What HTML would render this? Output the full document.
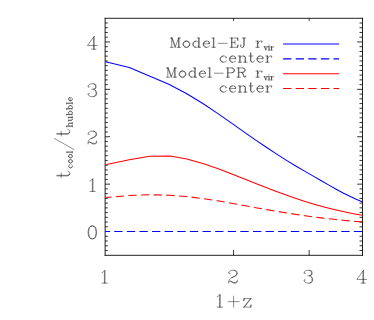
<!DOCTYPE html>
<html><head><meta charset="utf-8"><title>t_cool / t_hubble vs 1+z</title>
<style>html,body{margin:0;padding:0;background:#fff;font-family:"Liberation Sans",sans-serif}svg{display:block}</style>
</head><body><svg width="374" height="320" viewBox="0 0 374 320">
<rect width="374" height="320" fill="#fff"/>
<g fill="none" stroke-linecap="butt">
<path d="M105.13 17.88V255.75M362.5 17.88V255.75M104.69 18.3H362.94M104.69 255.32H362.94" stroke="#000" stroke-width="0.87"/>
<path d="M105.13 250.51H107.8M362.5 250.51h-3.0M105.13 245.77H107.8M362.5 245.77h-3.0M105.13 241.03H107.8M362.5 241.03h-3.0M105.13 236.29H107.8M362.5 236.29h-3.0M105.13 231.55H110.1M362.5 231.55h-5.3M105.13 226.81H107.8M362.5 226.81h-3.0M105.13 222.07H107.8M362.5 222.07h-3.0M105.13 217.33H107.8M362.5 217.33h-3.0M105.13 212.59H107.8M362.5 212.59h-3.0M105.13 207.85H107.8M362.5 207.85h-3.0M105.13 203.11H107.8M362.5 203.11h-3.0M105.13 198.37H107.8M362.5 198.37h-3.0M105.13 193.63H107.8M362.5 193.63h-3.0M105.13 188.89H107.8M362.5 188.89h-3.0M105.13 184.15H110.1M362.5 184.15h-5.3M105.13 179.41H107.8M362.5 179.41h-3.0M105.13 174.67H107.8M362.5 174.67h-3.0M105.13 169.93H107.8M362.5 169.93h-3.0M105.13 165.19H107.8M362.5 165.19h-3.0M105.13 160.45H107.8M362.5 160.45h-3.0M105.13 155.71H107.8M362.5 155.71h-3.0M105.13 150.97H107.8M362.5 150.97h-3.0M105.13 146.23H107.8M362.5 146.23h-3.0M105.13 141.49H107.8M362.5 141.49h-3.0M105.13 136.75H110.1M362.5 136.75h-5.3M105.13 132.01H107.8M362.5 132.01h-3.0M105.13 127.27H107.8M362.5 127.27h-3.0M105.13 122.53H107.8M362.5 122.53h-3.0M105.13 117.79H107.8M362.5 117.79h-3.0M105.13 113.05H107.8M362.5 113.05h-3.0M105.13 108.31H107.8M362.5 108.31h-3.0M105.13 103.57H107.8M362.5 103.57h-3.0M105.13 98.83H107.8M362.5 98.83h-3.0M105.13 94.09H107.8M362.5 94.09h-3.0M105.13 89.35H110.1M362.5 89.35h-5.3M105.13 84.61H107.8M362.5 84.61h-3.0M105.13 79.87H107.8M362.5 79.87h-3.0M105.13 75.13H107.8M362.5 75.13h-3.0M105.13 70.39H107.8M362.5 70.39h-3.0M105.13 65.65H107.8M362.5 65.65h-3.0M105.13 60.91H107.8M362.5 60.91h-3.0M105.13 56.17H107.8M362.5 56.17h-3.0M105.13 51.43H107.8M362.5 51.43h-3.0M105.13 46.69H107.8M362.5 46.69h-3.0M105.13 41.95H110.1M362.5 41.95h-5.3M105.13 37.21H107.8M362.5 37.21h-3.0M105.13 32.47H107.8M362.5 32.47h-3.0M105.13 27.73H107.8M362.5 27.73h-3.0M105.13 22.99H107.8M362.5 22.99h-3.0M233.55 255.32V250.0M233.55 18.3V20.8M309.15 255.32V250.0M309.15 18.3V20.8" stroke="#000" stroke-width="0.8"/>
<path d="M105.5 61.8L129.3 67.6L168.8 84.3L186.8 93.69L202.8 103.48L217.6 113.38L231.2 122.88L243.9 131.84L255.7 140.06L266.7 147.55L277.1 154.39L286.9 160.58L296.2 166.21L305 171.38L313.3 176.17L321.3 180.75L328.9 185.09L336.2 189.2L343.1 192.94L349.8 196.34L356.2 199.31L362.5 201.89" stroke="#00f" stroke-width="1.05" stroke-linejoin="round"/>
<path d="M105.5 164.85L129.3 159.8L149.65 156.3L170 156.1L186.8 158.9L202.8 163.41L217.6 168.59L231.2 173.82L243.9 178.85L255.7 183.54L266.7 187.83L277.1 191.77L286.9 195.32L296.2 198.53L305 201.39L313.3 203.92L321.3 206.19L328.9 208.18L336.2 209.96L343.1 211.51L349.8 212.92L356.2 214.17L362.5 215.31" stroke="#f00" stroke-width="1.05" stroke-linejoin="round"/>
<path d="M105.5 197.6L129.3 195.52L149.8 194.77L169.5 195.21L186.8 196.56L202.8 198.53L217.6 200.83L231.2 203.21L243.9 205.53L255.7 207.67L266.7 209.61L277.1 211.37L286.9 212.96L296.2 214.4L305 215.69L313.3 216.83L321.3 217.86L328.9 218.78L336.2 219.58L343.1 220.29L349.8 220.9L356.2 221.43L362.5 221.89" stroke="#f00" stroke-width="1.05" stroke-dasharray="8.3 4.34" stroke-dashoffset="2.3"/>
<path d="M105.5 231.5H362.5" stroke="#00f" stroke-width="1.05" stroke-dasharray="8.3 4.316" stroke-dashoffset="3.9"/>
<path d="M283.1 44H339.1" stroke="#00f" stroke-width="1.05"/>
<path d="M283.1 58.85H339.1" stroke="#00f" stroke-width="1.05" stroke-dasharray="8.3 4.3"/>
<path d="M283.1 73.7H339.1" stroke="#f00" stroke-width="1.05"/>
<path d="M283.1 88.5H339.1" stroke="#f00" stroke-width="1.05" stroke-dasharray="8.3 4.3"/>
<path d="M91.74 225.99L89.91 226.6L88.69 228.43L88.08 231.48L88.08 233.31L88.69 236.36L89.91 238.19L91.74 238.8L92.96 238.8L94.79 238.19L96.01 236.36L96.62 233.31L96.62 231.48L96.01 228.43L94.79 226.6L92.96 225.99L91.74 225.99 M91.74 225.99L90.52 226.6L89.91 227.21L89.3 228.43L88.69 231.48L88.69 233.31L89.3 236.36L89.91 237.58L90.52 238.19L91.74 238.8 M92.96 238.8L94.18 238.19L94.79 237.58L95.4 236.36L96.01 233.31L96.01 231.48L95.4 228.43L94.79 227.21L94.18 226.6L92.96 225.99 M89.91 181.03L91.13 180.42L92.96 178.59L92.96 191.4 M92.35 179.2L92.35 191.4 M89.91 191.4L95.4 191.4 M88.69 133.63L89.3 134.24L88.69 134.85L88.08 134.24L88.08 133.63L88.69 132.41L89.3 131.8L91.13 131.19L93.57 131.19L95.4 131.8L96.01 132.41L96.62 133.63L96.62 134.85L96.01 136.07L94.18 137.29L91.13 138.51L89.91 139.12L88.69 140.34L88.08 142.17L88.08 144 M93.57 131.19L94.79 131.8L95.4 132.41L96.01 133.63L96.01 134.85L95.4 136.07L93.57 137.29L91.13 138.51 M88.08 142.78L88.69 142.17L89.91 142.17L92.96 143.39L94.79 143.39L96.01 142.78L96.62 142.17 M89.91 142.17L92.96 144L95.4 144L96.01 143.39L96.62 142.17L96.62 140.95 M88.69 86.23L89.3 86.84L88.69 87.45L88.08 86.84L88.08 86.23L88.69 85.01L89.3 84.4L91.13 83.79L93.57 83.79L95.4 84.4L96.01 85.62L96.01 87.45L95.4 88.67L93.57 89.28L91.74 89.28 M93.57 83.79L94.79 84.4L95.4 85.62L95.4 87.45L94.79 88.67L93.57 89.28 M93.57 89.28L94.79 89.89L96.01 91.11L96.62 92.33L96.62 94.16L96.01 95.38L95.4 95.99L93.57 96.6L91.13 96.6L89.3 95.99L88.69 95.38L88.08 94.16L88.08 93.55L88.69 92.94L89.3 93.55L88.69 94.16 M95.4 90.5L96.01 92.33L96.01 94.16L95.4 95.38L94.79 95.99L93.57 96.6 M93.57 37.61L93.57 49.2 M94.18 36.39L94.18 49.2 M94.18 36.39L87.47 45.54L97.23 45.54 M91.74 49.2L96.01 49.2 M101.96 272.73L103.18 272.12L105.01 270.29L105.01 283.1 M104.4 270.9L104.4 283.1 M101.96 283.1L107.45 283.1 M229.39 272.73L230 273.34L229.39 273.95L228.78 273.34L228.78 272.73L229.39 271.51L230 270.9L231.83 270.29L234.27 270.29L236.1 270.9L236.71 271.51L237.32 272.73L237.32 273.95L236.71 275.17L234.88 276.39L231.83 277.61L230.61 278.22L229.39 279.44L228.78 281.27L228.78 283.1 M234.27 270.29L235.49 270.9L236.1 271.51L236.71 272.73L236.71 273.95L236.1 275.17L234.27 276.39L231.83 277.61 M228.78 281.88L229.39 281.27L230.61 281.27L233.66 282.49L235.49 282.49L236.71 281.88L237.32 281.27 M230.61 281.27L233.66 283.1L236.1 283.1L236.71 282.49L237.32 281.27L237.32 280.05 M304.74 272.73L305.35 273.34L304.74 273.95L304.13 273.34L304.13 272.73L304.74 271.51L305.35 270.9L307.18 270.29L309.62 270.29L311.45 270.9L312.06 272.12L312.06 273.95L311.45 275.17L309.62 275.78L307.79 275.78 M309.62 270.29L310.84 270.9L311.45 272.12L311.45 273.95L310.84 275.17L309.62 275.78 M309.62 275.78L310.84 276.39L312.06 277.61L312.67 278.83L312.67 280.66L312.06 281.88L311.45 282.49L309.62 283.1L307.18 283.1L305.35 282.49L304.74 281.88L304.13 280.66L304.13 280.05L304.74 279.44L305.35 280.05L304.74 280.66 M311.45 277L312.06 278.83L312.06 280.66L311.45 281.88L310.84 282.49L309.62 283.1 M362.92 271.51L362.92 283.1 M363.53 270.29L363.53 283.1 M363.53 270.29L356.82 279.44L366.58 279.44 M361.09 283.1L365.36 283.1 M217.16 296.78L218.38 296.17L220.21 294.34L220.21 307.15 M219.6 294.95L219.6 307.15 M217.16 307.15L222.65 307.15 M233.6 296.12L233.6 307.1 M228.11 301.61L239.09 301.61 M250.45 298.56L243.74 307.1 M251.06 298.56L244.35 307.1 M244.35 298.56L243.74 301L243.74 298.56L251.06 298.56 M243.74 307.1L251.06 307.1L251.06 304.66L250.45 307.1 M56.89 175.91L67.26 175.91L69.09 175.3L69.7 174.08L69.7 172.86L69.09 171.64L67.87 171.03 M56.89 175.3L67.26 175.3L69.09 174.69L69.7 174.08 M61.16 177.74L61.16 172.86 M54.45 138.5L73.97 149.48 M56.89 134.23L67.26 134.23L69.09 133.62L69.7 132.4L69.7 131.18L69.09 129.96L67.87 129.35 M56.89 133.62L67.26 133.62L69.09 133.01L69.7 132.4 M61.16 136.06L61.16 131.18 M171.72 38.04L171.72 47.3 M172.21 38.04L175.15 45.98 M171.72 38.04L175.15 47.3 M178.58 38.04L175.15 47.3 M178.58 38.04L178.58 47.3 M179.07 38.04L179.07 47.3 M170.25 38.04L172.21 38.04 M178.58 38.04L180.54 38.04 M170.25 47.3L173.19 47.3 M177.11 47.3L180.54 47.3 M185.93 41.13L184.46 41.57L183.48 42.45L182.99 43.77L182.99 44.65L183.48 45.98L184.46 46.86L185.93 47.3L186.91 47.3L188.38 46.86L189.36 45.98L189.85 44.65L189.85 43.77L189.36 42.45L188.38 41.57L186.91 41.13L185.93 41.13 M185.93 41.13L184.95 41.57L183.97 42.45L183.48 43.77L183.48 44.65L183.97 45.98L184.95 46.86L185.93 47.3 M186.91 47.3L187.89 46.86L188.87 45.98L189.36 44.65L189.36 43.77L188.87 42.45L187.89 41.57L186.91 41.13 M198.67 38.04L198.67 47.3 M199.16 38.04L199.16 47.3 M198.67 42.45L197.69 41.57L196.71 41.13L195.73 41.13L194.26 41.57L193.28 42.45L192.79 43.77L192.79 44.65L193.28 45.98L194.26 46.86L195.73 47.3L196.71 47.3L197.69 46.86L198.67 45.98 M195.73 41.13L194.75 41.57L193.77 42.45L193.28 43.77L193.28 44.65L193.77 45.98L194.75 46.86L195.73 47.3 M197.2 38.04L199.16 38.04 M198.67 47.3L200.63 47.3 M203.57 43.77L209.45 43.77L209.45 42.89L208.96 42.01L208.47 41.57L207.49 41.13L206.02 41.13L204.55 41.57L203.57 42.45L203.08 43.77L203.08 44.65L203.57 45.98L204.55 46.86L206.02 47.3L207 47.3L208.47 46.86L209.45 45.98 M208.96 43.77L208.96 42.45L208.47 41.57 M206.02 41.13L205.04 41.57L204.06 42.45L203.57 43.77L203.57 44.65L204.06 45.98L205.04 46.86L206.02 47.3 M213.37 38.04L213.37 47.3 M213.86 38.04L213.86 47.3 M211.9 38.04L213.86 38.04 M211.9 47.3L215.33 47.3 M218.27 43.33L227.09 43.33 M231.5 38.04L231.5 47.3 M231.99 38.04L231.99 47.3 M234.93 40.68L234.93 44.21 M230.03 38.04L237.87 38.04L237.87 40.68L237.38 38.04 M231.99 42.45L234.93 42.45 M230.03 47.3L237.87 47.3L237.87 44.65L237.38 47.3 M244.24 38.04L244.24 45.54L243.75 46.86L242.77 47.3L241.79 47.3L240.81 46.86L240.32 45.98L240.32 45.09L240.81 44.65L241.3 45.09L240.81 45.54 M243.75 38.04L243.75 45.54L243.26 46.86L242.77 47.3 M242.28 38.04L245.71 38.04 M257.38 41.13L257.38 47.3 M257.87 41.13L257.87 47.3 M257.87 43.77L258.36 42.45L259.34 41.57L260.32 41.13L261.79 41.13L262.28 41.57L262.28 42.01L261.79 42.45L261.3 42.01L261.79 41.57 M255.91 41.13L257.87 41.13 M255.91 47.3L259.34 47.3 M225.96 57.35L225.47 57.79L225.96 58.23L226.45 57.79L226.45 57.35L225.47 56.47L224.49 56.03L223.02 56.03L221.55 56.47L220.57 57.35L220.08 58.67L220.08 59.55L220.57 60.88L221.55 61.76L223.02 62.2L224 62.2L225.47 61.76L226.45 60.88 M223.02 56.03L222.04 56.47L221.06 57.35L220.57 58.67L220.57 59.55L221.06 60.88L222.04 61.76L223.02 62.2 M229.88 58.67L235.76 58.67L235.76 57.79L235.27 56.91L234.78 56.47L233.8 56.03L232.33 56.03L230.86 56.47L229.88 57.35L229.39 58.67L229.39 59.55L229.88 60.88L230.86 61.76L232.33 62.2L233.31 62.2L234.78 61.76L235.76 60.88 M235.27 58.67L235.27 57.35L234.78 56.47 M232.33 56.03L231.35 56.47L230.37 57.35L229.88 58.67L229.88 59.55L230.37 60.88L231.35 61.76L232.33 62.2 M239.68 56.03L239.68 62.2 M240.17 56.03L240.17 62.2 M240.17 57.35L241.15 56.47L242.62 56.03L243.6 56.03L245.07 56.47L245.56 57.35L245.56 62.2 M243.6 56.03L244.58 56.47L245.07 57.35L245.07 62.2 M238.21 56.03L240.17 56.03 M238.21 62.2L241.64 62.2 M243.6 62.2L247.03 62.2 M250.46 52.94L250.46 60.44L250.95 61.76L251.93 62.2L252.91 62.2L253.89 61.76L254.38 60.88 M250.95 52.94L250.95 60.44L251.44 61.76L251.93 62.2 M248.99 56.03L252.91 56.03 M257.32 58.67L263.2 58.67L263.2 57.79L262.71 56.91L262.22 56.47L261.24 56.03L259.77 56.03L258.3 56.47L257.32 57.35L256.83 58.67L256.83 59.55L257.32 60.88L258.3 61.76L259.77 62.2L260.75 62.2L262.22 61.76L263.2 60.88 M262.71 58.67L262.71 57.35L262.22 56.47 M259.77 56.03L258.79 56.47L257.81 57.35L257.32 58.67L257.32 59.55L257.81 60.88L258.79 61.76L259.77 62.2 M267.12 56.03L267.12 62.2 M267.61 56.03L267.61 62.2 M267.61 58.67L268.1 57.35L269.08 56.47L270.06 56.03L271.53 56.03L272.02 56.47L272.02 56.91L271.53 57.35L271.04 56.91L271.53 56.47 M265.65 56.03L267.61 56.03 M265.65 62.2L269.08 62.2 M167.8 67.94L167.8 77.2 M168.29 67.94L171.23 75.88 M167.8 67.94L171.23 77.2 M174.66 67.94L171.23 77.2 M174.66 67.94L174.66 77.2 M175.15 67.94L175.15 77.2 M166.33 67.94L168.29 67.94 M174.66 67.94L176.62 67.94 M166.33 77.2L169.27 77.2 M173.19 77.2L176.62 77.2 M182.01 71.03L180.54 71.47L179.56 72.35L179.07 73.67L179.07 74.55L179.56 75.88L180.54 76.76L182.01 77.2L182.99 77.2L184.46 76.76L185.44 75.88L185.93 74.55L185.93 73.67L185.44 72.35L184.46 71.47L182.99 71.03L182.01 71.03 M182.01 71.03L181.03 71.47L180.05 72.35L179.56 73.67L179.56 74.55L180.05 75.88L181.03 76.76L182.01 77.2 M182.99 77.2L183.97 76.76L184.95 75.88L185.44 74.55L185.44 73.67L184.95 72.35L183.97 71.47L182.99 71.03 M194.75 67.94L194.75 77.2 M195.24 67.94L195.24 77.2 M194.75 72.35L193.77 71.47L192.79 71.03L191.81 71.03L190.34 71.47L189.36 72.35L188.87 73.67L188.87 74.55L189.36 75.88L190.34 76.76L191.81 77.2L192.79 77.2L193.77 76.76L194.75 75.88 M191.81 71.03L190.83 71.47L189.85 72.35L189.36 73.67L189.36 74.55L189.85 75.88L190.83 76.76L191.81 77.2 M193.28 67.94L195.24 67.94 M194.75 77.2L196.71 77.2 M199.65 73.67L205.53 73.67L205.53 72.79L205.04 71.91L204.55 71.47L203.57 71.03L202.1 71.03L200.63 71.47L199.65 72.35L199.16 73.67L199.16 74.55L199.65 75.88L200.63 76.76L202.1 77.2L203.08 77.2L204.55 76.76L205.53 75.88 M205.04 73.67L205.04 72.35L204.55 71.47 M202.1 71.03L201.12 71.47L200.14 72.35L199.65 73.67L199.65 74.55L200.14 75.88L201.12 76.76L202.1 77.2 M209.45 67.94L209.45 77.2 M209.94 67.94L209.94 77.2 M207.98 67.94L209.94 67.94 M207.98 77.2L211.41 77.2 M214.35 73.23L223.17 73.23 M227.58 67.94L227.58 77.2 M228.07 67.94L228.07 77.2 M226.11 67.94L231.99 67.94L233.46 68.38L233.95 68.82L234.44 69.7L234.44 71.03L233.95 71.91L233.46 72.35L231.99 72.79L228.07 72.79 M231.99 67.94L232.97 68.38L233.46 68.82L233.95 69.7L233.95 71.03L233.46 71.91L232.97 72.35L231.99 72.79 M226.11 77.2L229.54 77.2 M238.36 67.94L238.36 77.2 M238.85 67.94L238.85 77.2 M236.89 67.94L242.77 67.94L244.24 68.38L244.73 68.82L245.22 69.7L245.22 70.59L244.73 71.47L244.24 71.91L242.77 72.35L238.85 72.35 M242.77 67.94L243.75 68.38L244.24 68.82L244.73 69.7L244.73 70.59L244.24 71.47L243.75 71.91L242.77 72.35 M236.89 77.2L240.32 77.2 M241.3 72.35L242.28 72.79L242.77 73.23L244.24 76.32L244.73 76.76L245.22 76.76L245.71 76.32 M242.28 72.79L242.77 73.67L243.75 76.76L244.24 77.2L245.22 77.2L245.71 76.32L245.71 75.88 M257.38 71.03L257.38 77.2 M257.87 71.03L257.87 77.2 M257.87 73.67L258.36 72.35L259.34 71.47L260.32 71.03L261.79 71.03L262.28 71.47L262.28 71.91L261.79 72.35L261.3 71.91L261.79 71.47 M255.91 71.03L257.87 71.03 M255.91 77.2L259.34 77.2 M225.96 87.25L225.47 87.69L225.96 88.13L226.45 87.69L226.45 87.25L225.47 86.37L224.49 85.93L223.02 85.93L221.55 86.37L220.57 87.25L220.08 88.57L220.08 89.45L220.57 90.78L221.55 91.66L223.02 92.1L224 92.1L225.47 91.66L226.45 90.78 M223.02 85.93L222.04 86.37L221.06 87.25L220.57 88.57L220.57 89.45L221.06 90.78L222.04 91.66L223.02 92.1 M229.88 88.57L235.76 88.57L235.76 87.69L235.27 86.81L234.78 86.37L233.8 85.93L232.33 85.93L230.86 86.37L229.88 87.25L229.39 88.57L229.39 89.45L229.88 90.78L230.86 91.66L232.33 92.1L233.31 92.1L234.78 91.66L235.76 90.78 M235.27 88.57L235.27 87.25L234.78 86.37 M232.33 85.93L231.35 86.37L230.37 87.25L229.88 88.57L229.88 89.45L230.37 90.78L231.35 91.66L232.33 92.1 M239.68 85.93L239.68 92.1 M240.17 85.93L240.17 92.1 M240.17 87.25L241.15 86.37L242.62 85.93L243.6 85.93L245.07 86.37L245.56 87.25L245.56 92.1 M243.6 85.93L244.58 86.37L245.07 87.25L245.07 92.1 M238.21 85.93L240.17 85.93 M238.21 92.1L241.64 92.1 M243.6 92.1L247.03 92.1 M250.46 82.84L250.46 90.34L250.95 91.66L251.93 92.1L252.91 92.1L253.89 91.66L254.38 90.78 M250.95 82.84L250.95 90.34L251.44 91.66L251.93 92.1 M248.99 85.93L252.91 85.93 M257.32 88.57L263.2 88.57L263.2 87.69L262.71 86.81L262.22 86.37L261.24 85.93L259.77 85.93L258.3 86.37L257.32 87.25L256.83 88.57L256.83 89.45L257.32 90.78L258.3 91.66L259.77 92.1L260.75 92.1L262.22 91.66L263.2 90.78 M262.71 88.57L262.71 87.25L262.22 86.37 M259.77 85.93L258.79 86.37L257.81 87.25L257.32 88.57L257.32 89.45L257.81 90.78L258.79 91.66L259.77 92.1 M267.12 85.93L267.12 92.1 M267.61 85.93L267.61 92.1 M267.61 88.57L268.1 87.25L269.08 86.37L270.06 85.93L271.53 85.93L272.02 86.37L272.02 86.81L271.53 87.25L271.04 86.81L271.53 86.37 M265.65 85.93L267.61 85.93 M265.65 92.1L269.08 92.1" stroke="#000" stroke-width="0.45" stroke-linecap="round" stroke-linejoin="round"/>
<path d="M69.46 164.89L69.72 165.15L69.98 164.89L69.72 164.63L69.46 164.63L68.95 165.15L68.69 165.66L68.69 166.44L68.95 167.21L69.46 167.73L70.24 167.99L70.75 167.99L71.53 167.73L72.04 167.21L72.3 166.44L72.3 165.92L72.04 165.15L71.53 164.63 M68.69 166.44L68.95 166.95L69.46 167.47L70.24 167.73L70.75 167.73L71.53 167.47L72.04 166.95L72.3 166.44 M68.69 161.54L68.95 162.31L69.46 162.83L70.24 163.08L70.75 163.08L71.53 162.83L72.04 162.31L72.3 161.54L72.3 161.02L72.04 160.25L71.53 159.73L70.75 159.47L70.24 159.47L69.46 159.73L68.95 160.25L68.69 161.02L68.69 161.54 M68.69 161.54L68.95 162.05L69.46 162.57L70.24 162.83L70.75 162.83L71.53 162.57L72.04 162.05L72.3 161.54 M72.3 161.02L72.04 160.5L71.53 159.99L70.75 159.73L70.24 159.73L69.46 159.99L68.95 160.5L68.69 161.02 M68.69 156.38L68.95 157.15L69.46 157.67L70.24 157.92L70.75 157.92L71.53 157.67L72.04 157.15L72.3 156.38L72.3 155.86L72.04 155.09L71.53 154.57L70.75 154.31L70.24 154.31L69.46 154.57L68.95 155.09L68.69 155.86L68.69 156.38 M68.69 156.38L68.95 156.89L69.46 157.41L70.24 157.67L70.75 157.67L71.53 157.41L72.04 156.89L72.3 156.38 M72.3 155.86L72.04 155.34L71.53 154.83L70.75 154.57L70.24 154.57L69.46 154.83L68.95 155.34L68.69 155.86 M66.88 152.25L72.3 152.25 M66.88 151.99L72.3 151.99 M66.88 153.02L66.88 151.99 M72.3 153.02L72.3 151.22 M66.69 126.29L72.3 126.29 M66.69 126.03L72.3 126.03 M69.36 126.03L68.83 125.49L68.56 124.69L68.56 124.16L68.83 123.36L69.36 123.09L72.3 123.09 M68.56 124.16L68.83 123.62L69.36 123.36L72.3 123.36 M66.69 127.1L66.69 126.03 M72.3 127.1L72.3 125.23 M72.3 124.16L72.3 122.29 M68.56 120.42L71.5 120.42L72.03 120.15L72.3 119.35L72.3 118.82L72.03 118.02L71.5 117.48 M68.56 120.15L71.5 120.15L72.03 119.89L72.3 119.35 M68.56 117.48L72.3 117.48 M68.56 117.22L72.3 117.22 M68.56 121.22L68.56 120.15 M68.56 118.28L68.56 117.22 M72.3 117.48L72.3 116.42 M66.69 114.55L72.3 114.55 M66.69 114.28L72.3 114.28 M69.36 114.28L68.83 113.75L68.56 113.21L68.56 112.68L68.83 111.88L69.36 111.34L70.16 111.08L70.7 111.08L71.5 111.34L72.03 111.88L72.3 112.68L72.3 113.21L72.03 113.75L71.5 114.28 M68.56 112.68L68.83 112.14L69.36 111.61L70.16 111.34L70.7 111.34L71.5 111.61L72.03 112.14L72.3 112.68 M66.69 115.35L66.69 114.28 M66.69 108.94L72.3 108.94 M66.69 108.67L72.3 108.67 M69.36 108.67L68.83 108.14L68.56 107.6L68.56 107.07L68.83 106.27L69.36 105.74L70.16 105.47L70.7 105.47L71.5 105.74L72.03 106.27L72.3 107.07L72.3 107.6L72.03 108.14L71.5 108.67 M68.56 107.07L68.83 106.54L69.36 106L70.16 105.74L70.7 105.74L71.5 106L72.03 106.54L72.3 107.07 M66.69 109.74L66.69 108.67 M66.69 103.33L72.3 103.33 M66.69 103.07L72.3 103.07 M66.69 104.13L66.69 103.07 M72.3 104.13L72.3 102.26 M70.16 100.66L70.16 97.46L69.63 97.46L69.1 97.73L68.83 97.99L68.56 98.53L68.56 99.33L68.83 100.13L69.36 100.66L70.16 100.93L70.7 100.93L71.5 100.66L72.03 100.13L72.3 99.33L72.3 98.79L72.03 97.99L71.5 97.46 M70.16 97.73L69.36 97.73L68.83 97.99 M68.56 99.33L68.83 99.86L69.36 100.4L70.16 100.66L70.7 100.66L71.5 100.4L72.03 99.86L72.3 99.33 M264.43 46.69L265.78 50.05 M264.66 46.69L265.78 49.57 M267.12 46.69L265.78 50.05 M263.98 46.69L265.33 46.69 M266.22 46.69L267.57 46.69 M268.91 45.01L268.69 45.25L268.91 45.49L269.14 45.25L268.91 45.01 M268.91 46.69L268.91 50.05 M269.14 46.69L269.14 50.05 M268.24 46.69L269.14 46.69 M268.24 50.05L269.81 50.05 M271.38 46.69L271.38 50.05 M271.6 46.69L271.6 50.05 M271.6 48.13L271.82 47.41L272.27 46.93L272.72 46.69L273.39 46.69L273.62 46.93L273.62 47.17L273.39 47.41L273.17 47.17L273.39 46.93 M270.7 46.69L271.6 46.69 M270.7 50.05L272.27 50.05 M264.43 76.59L265.78 79.95 M264.66 76.59L265.78 79.47 M267.12 76.59L265.78 79.95 M263.98 76.59L265.33 76.59 M266.22 76.59L267.57 76.59 M268.91 74.91L268.69 75.15L268.91 75.39L269.14 75.15L268.91 74.91 M268.91 76.59L268.91 79.95 M269.14 76.59L269.14 79.95 M268.24 76.59L269.14 76.59 M268.24 79.95L269.81 79.95 M271.38 76.59L271.38 79.95 M271.6 76.59L271.6 79.95 M271.6 78.03L271.82 77.31L272.27 76.83L272.72 76.59L273.39 76.59L273.62 76.83L273.62 77.07L273.39 77.31L273.17 77.07L273.39 76.83 M270.7 76.59L271.6 76.59 M270.7 79.95L272.27 79.95" stroke="#000" stroke-width="0.4" stroke-linecap="round" stroke-linejoin="round"/>
</g>
</svg></body></html>
